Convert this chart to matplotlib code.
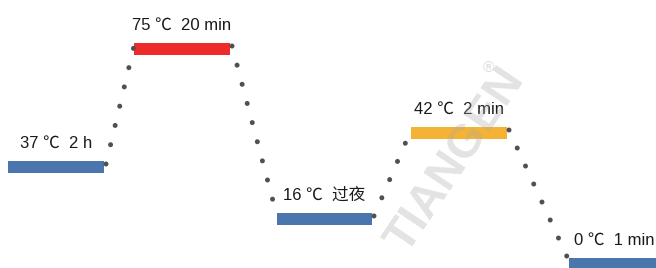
import numpy as np
import matplotlib
matplotlib.use("Agg")
import matplotlib.pyplot as plt

# steps of the temperature program (schematic, pixel-like coordinates)
temps = [37, 75, 16, 42, 0]
times = ["2 h", "20 min", "过夜", "2 min", "1 min"]
x_start = [8, 134, 277, 411, 569]
x_end = [104, 230, 372, 507, 660]
levels = [167, 49, 219, 133, 264]
colors = ["#4a75ad", "#ee2b2b", "#4a75ad", "#f5b335", "#4a75ad"]

plt.rcParams['font.family'] = ['Liberation Sans', 'Noto Sans CJK SC', 'DejaVu Sans']

fig = plt.figure(figsize=(6.56, 2.68), dpi=100)
ax = fig.add_axes([0, 0, 1, 1])
ax.set_xlim(0, 656)
ax.set_ylim(268, 0)
ax.axis("off")

# dotted ramps between the holds
for i in range(len(temps) - 1):
    ax.plot([x_end[i] + 2, x_start[i + 1]], [levels[i] - 3, levels[i + 1] - 3],
            color="#505050", lw=3.6, linestyle=(0, (0.01, 3.95)),
            dash_capstyle="round", solid_capstyle="round", zorder=3)

# holds
label_x = [56, 182, 324, 459, 614]
for i in range(len(temps)):
    ax.barh(levels[i], x_end[i] - x_start[i], left=x_start[i], height=12,
            color=colors[i], zorder=2)
    ax.text(label_x[i], levels[i] - 16,
            f"{temps[i]} ℃  {times[i]}", ha="center", va="bottom",
            fontsize=12, color="#1a1a1a", zorder=4)

# watermark
ax.text(456, 160, "TIANGEN", rotation=56, ha="center", va="center",
        fontsize=34, fontweight="bold", color="#a8a8a8", alpha=0.32, zorder=5)
ax.text(488, 68, "®", ha="center", va="center", fontsize=11,
        color="#a8a8a8", alpha=0.4, zorder=5)

fig.savefig("out.png", dpi=100)
